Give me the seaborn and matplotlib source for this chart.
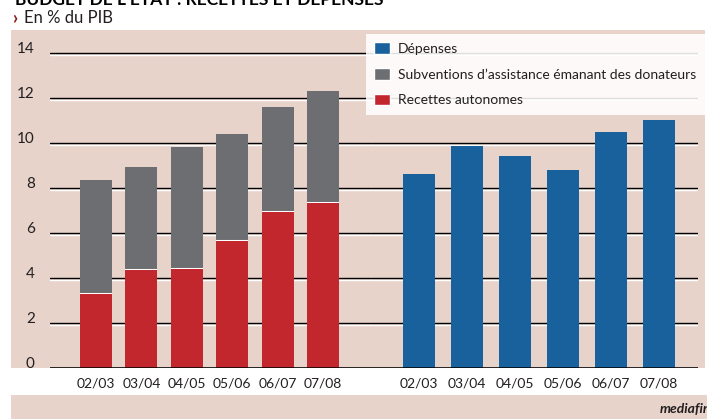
import numpy as np
import pandas as pd
import seaborn as sns
import matplotlib
matplotlib.use("Agg")
from matplotlib import pyplot as plt
from matplotlib.patches import Patch, Rectangle
import matplotlib.patheffects as pe

# data (% of GDP)
periods = ["02/03", "03/04", "04/05", "05/06", "06/07", "07/08"]
recettes = [3.3, 4.35, 4.4, 5.65, 6.95, 7.35]
subventions = [5.05, 4.6, 5.4, 4.75, 4.65, 4.95]
depenses = [8.6, 9.85, 9.4, 8.8, 10.5, 11.0]
yticks = [0, 2, 4, 6, 8, 10, 12, 14]

PINK = "#e7d3ca"
RED = "#c1272d"
GREY = "#6d6e71"
BLUE = "#18619d"
INK = "#231f20"

sns.set_theme(style="white")
plt.rcParams["font.family"] = ["Lato", "DejaVu Sans"]

left_df = pd.DataFrame({"period": periods, "recettes": recettes, "subventions": subventions})
left_df["total"] = left_df["recettes"] + left_df["subventions"]
right_df = pd.DataFrame({"period": periods, "depenses": depenses})

W, H = 707, 419
fig = plt.figure(figsize=(W / 100, H / 100), dpi=100)
fig.patch.set_facecolor("white")

# background panels
fig.patches.append(Rectangle((11 / W, 1 - 368 / H), 694 / W, 338 / H, transform=fig.transFigure,
                             facecolor=PINK, edgecolor="none", zorder=-10))
fig.patches.append(Rectangle((11 / W, 0), 696 / W, 24 / H, transform=fig.transFigure,
                             facecolor=PINK, edgecolor="none", zorder=-10))

bottom = 1 - 368 / H
height = 328.5 / H
ax1 = fig.add_axes([50 / W, bottom, 321 / W, height])
ax2 = fig.add_axes([371 / W, bottom, 327 / W, height])

# stacked bars: grey total, then red on top with a thin white separator
sns.barplot(data=left_df, x="period", y="total", color=GREY, width=0.705, saturation=1,
            linewidth=0, ax=ax1)
sns.barplot(data=left_df, x="period", y="recettes", color=RED, width=0.705, saturation=1,
            edgecolor="white", linewidth=2.2, ax=ax1)
sns.barplot(data=left_df, x="period", y="recettes", color=RED, width=0.705, saturation=1,
            linewidth=0, ax=ax1)
for grey_bar, outlined in zip(ax1.containers[0], ax1.containers[1]):
    outlined.set_clip_path(grey_bar)

sns.barplot(data=right_df, x="period", y="depenses", color=BLUE, width=0.667, saturation=1,
            linewidth=0, ax=ax2)

ax1.set_xlim(-1.013, 6.057)
ax2.set_xlim(-1.0, 5.8125)

for ax in (ax1, ax2):
    ax.set_facecolor("none")
    ax.set_ylim(0, 14.6)
    ax.set_yticks(yticks)
    ax.set_xlabel("")
    ax.set_ylabel("")
    for s in ax.spines.values():
        s.set_visible(False)
    ax.yaxis.grid(True, color="black", linewidth=1.0)
    ax.set_axisbelow(True)
    for gl in ax.get_ygridlines():
        gl.set_path_effects([pe.SimpleLineShadow(offset=(0, -1.5), shadow_color="white", alpha=1, rho=1),
                             pe.Normal()])
    ax.axhline(0, color="black", linewidth=1.1, zorder=5)
    ax.tick_params(axis="both", length=0)
    ax.tick_params(axis="x", labelsize=10, colors=INK, pad=7)

ax1.tick_params(axis="y", labelsize=11, colors=INK, pad=11)
for lab in ax1.get_yticklabels():
    lab.set_va("baseline")
ax2.set_yticklabels([])

handles = [Patch(facecolor=BLUE, label="Dépenses"),
           Patch(facecolor=GREY, label="Subventions d’assistance émanant des donateurs"),
           Patch(facecolor=RED, label="Recettes autonomes")]
leg = fig.legend(handles=handles, loc="upper left", bbox_to_anchor=(366 / W, 1 - 34 / H),
                 bbox_transform=fig.transFigure, fontsize=10, frameon=True, fancybox=False,
                 framealpha=0.88, facecolor="white", edgecolor="none", borderaxespad=0,
                 handlelength=1.15, handleheight=0.9, handletextpad=0.55, labelspacing=0.95,
                 borderpad=0.6)
for t in leg.get_texts():
    t.set_color(INK)

# titles
fig.text(15 / W, 1 - 5 / H, "BUDGET DE L’ÉTAT : RECETTES ET DÉPENSES", fontsize=12.5,
         fontweight="bold", color="black", va="baseline", ha="left")
fig.text(12 / W, 1 - 18 / H, "›", fontsize=13, fontweight="bold", color="#8b1a1a",
         va="center", ha="left")
fig.text(24 / W, 1 - 18 / H, "En % du PIB", fontsize=12, color=INK, va="center", ha="left")
fig.text(660 / W, 1 - 409 / H, "mediafin", fontsize=10, fontweight="bold", style="italic",
         color=INK, va="center", ha="left")

fig.savefig("out.png", dpi=100)
